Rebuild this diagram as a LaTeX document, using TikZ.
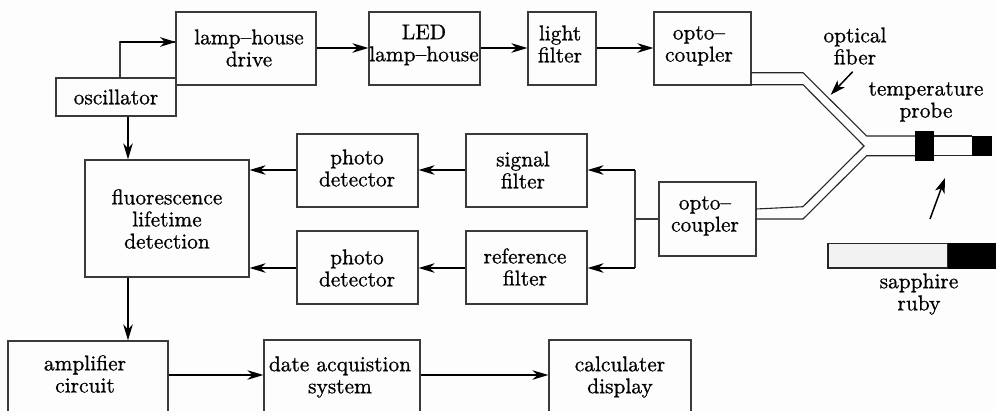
\documentclass[tikz,border=0pt]{standalone}
\usetikzlibrary{arrows.meta}
\definecolor{pagebg}{HTML}{FDFDFD}
\definecolor{linecol}{HTML}{3A3A3A}
\definecolor{sapphire}{HTML}{F2F2F2}
\tikzset{
  blockbox/.style={draw=linecol,line width=1.2pt,rectangle,inner sep=0pt},
  label/.style={scale=2.14,inner sep=0pt,align=center,font=\fontsize{10}{10.3}\selectfont\special{pdf:code 2 Tr 0.08 w},
    execute at end node={\special{pdf:code 0 Tr}}},
  flow/.style={draw=black,line width=1.5pt,-{Stealth[length=16pt,width=9.5pt,inset=5pt]}},
  pointer/.style={draw=black,line width=1.5pt,-{Stealth[length=15pt,width=10pt,inset=4pt]}},
  thinlink/.style={draw=linecol,line width=1.2pt},
  fiber/.style={draw=black!85,line width=1.1pt},
}
\newcommand{\blk}[8]{% name, x0, y0, x1, y1, text x, text y, text
  \node[blockbox,minimum width=#4pt-#2pt,minimum height=#5pt-#3pt] (#1) at ({(#2+#4)/2*1pt},{-(#3+#5)/2*1pt}) {};
  \node[label] (#1t) at (#6,#7) {#8};}
\begin{document}
\begin{tikzpicture}[x=1pt,y=-1pt]
\useasboundingbox (0,0) rectangle (996,410);
\fill[pagebg] (0,0) rectangle (996,410);
\clip (0,0) rectangle (996,410);
\blk{drive}{176}{12}{316}{85}{249}{48}{lamp--house\\drive}
\blk{osc}{56}{78}{176}{116}{116}{97}{oscillator}
\blk{led}{369}{12}{480}{85}{424}{45}{LED\\lamp--house}
\blk{lfilter}{528}{12}{596}{85}{560}{44}{light\\filter}
\blk{optoa}{654}{12}{751}{85}{699}{46}{opto--\\coupler}
\blk{fluor}{85}{160}{249}{277}{167}{219}{fluorescence\\lifetime\\detection}
\blk{pda}{297}{134}{418}{207}{357}{168}{photo\\detector}
\blk{pdb}{297}{231}{418}{304}{357}{268}{photo\\detector}
\blk{sfilter}{466}{134}{587}{207}{523}{170}{signal\\filter}
\blk{rfilter}{466}{231}{587}{304}{525}{267}{reference\\filter}
\blk{optob}{659}{182}{756}{256}{705}{216}{opto--\\coupler}
% bottom row runs past the picture's lower edge
\blk{amp}{8}{341}{168}{441}{85}{374}{amplifier\\circuit}
\blk{das}{264}{340}{420}{440}{340}{377}{date acquistion\\system}
\blk{calc}{549}{340}{691}{440}{620}{377}{calculater\\display}
% flow arrows
\coordinate (o1) at (120,78);
\coordinate (d1) at (176,42);
\draw[thinlink] (o1) |- (d1);
\draw[flow] (o1 |- d1) -- (d1);
\draw[flow] (drive.east |- 0,48) -- (led.west |- 0,48);
\draw[flow] (led.east |- 0,48) -- (lfilter.west |- 0,48);
\draw[flow] (lfilter.east |- 0,48) -- (optoa.west |- 0,48);
\draw[flow] (osc.south -| 128,0) -- (fluor.north -| 128,0);
\draw[flow] (fluor.south -| 128,0) -- (amp.north -| 128,0);
\draw[flow] (pda.west |- 0,170) -- (fluor.east |- 0,170);
\draw[flow] (pdb.west |- 0,268) -- (fluor.east |- 0,268);
\draw[flow] (sfilter.west |- 0,170) -- (pda.east |- 0,170);
\draw[flow] (rfilter.west |- 0,268) -- (pdb.east |- 0,268);
\coordinate (branch) at (635,219);
\draw[thinlink] (optob.west |- branch) -- (branch);
\draw[thinlink] (635,170) -- (635,268);
\draw[flow] (635,170) -- (sfilter.east |- 0,170);
\draw[flow] (635,268) -- (rfilter.east |- 0,268);
\draw[flow] (amp.east |- 0,375) -- (das.west |- 0,375);
\draw[flow] (das.east |- 0,375) -- (calc.west |- 0,375);
% fibre coupler
\draw[fiber] (751,72.7) -- (803,72.7) -- (866.7,136) -- (915,136);
\draw[fiber] (751,84.7) -- (803,84.7) -- (864,146) -- (803,206.7) -- (756,209);
\draw[fiber] (756,219) -- (803,219) -- (866.7,155.7) -- (915,155.7);
% probe
\fill[black] (915,131) rectangle (934,161);
\draw[fiber] (934,136) -- (972,136);
\draw[fiber] (934,155.7) -- (972,155.7);
\fill[black] (972,136) rectangle (992,156);
% sapphire/ruby bar
\draw[fiber,fill=sapphire] (828,243.5) rectangle (948,268);
\fill[black] (948,243) rectangle (996,268.5);
% pointers
\coordinate (pa) at (852.7,71.7);
\coordinate (pb) at (830.7,94.7);
\coordinate (pc) at (930,219);
\coordinate (pd) at (945,178);
\draw[pointer] (pa) -- (pb);
\draw[pointer] (pc) -- (pd);
% labels
\node[label] (lfib) at (855,46) {optical\\fiber};
\node[label] (lprobe) at (926,102) {temperature\\probe};
\node[label] (lbar) at (919,294) {sapphire\\ruby};
\end{tikzpicture}
\end{document}
